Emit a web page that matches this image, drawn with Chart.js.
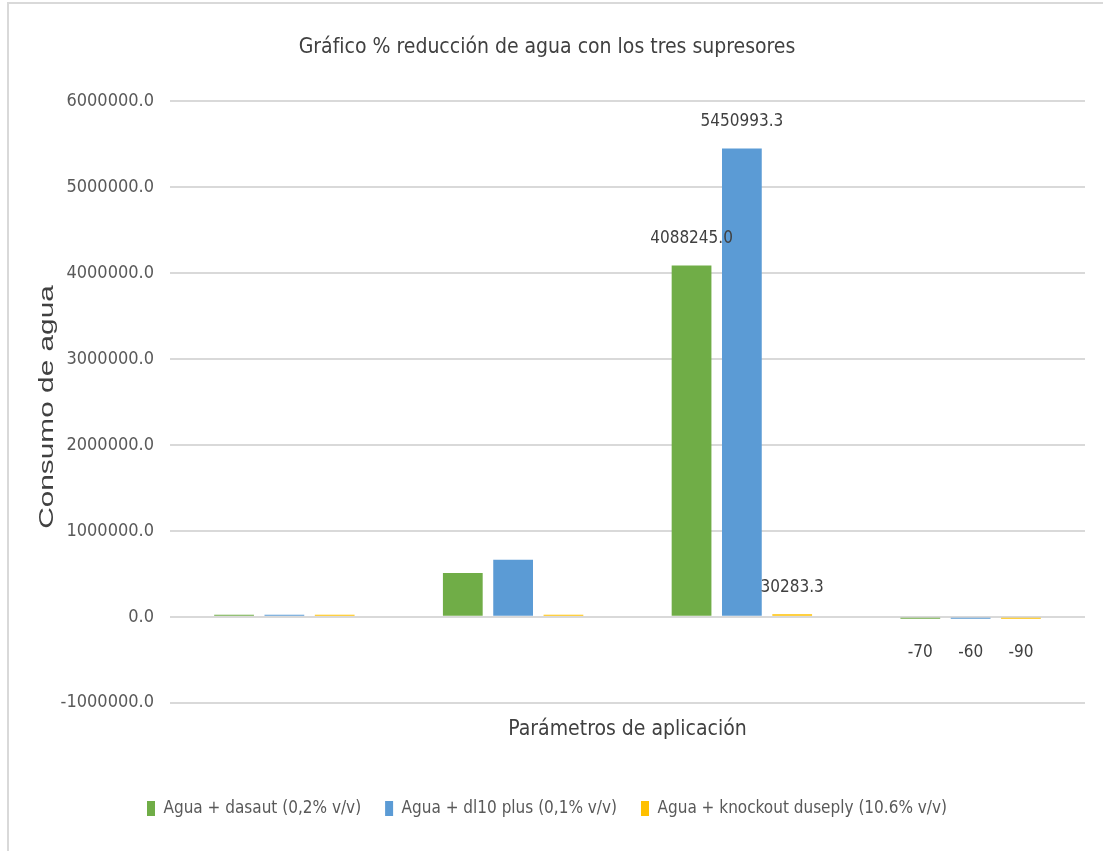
<!DOCTYPE html>
<html lang="es">
<head>
  <meta charset="UTF-8" />
  <title>Gráfico % reducción de agua</title>
  <script src="https://cdn.jsdelivr.net/npm/chart.js"></script>
  <style>
    html, body { margin: 0; padding: 0; background: #fff; }
    #frame {
      position: absolute; left: 7px; top: 2px; width: 1096px; height: 849px;
      border-left: 2px solid #d9d9d9; border-top: 2px solid #d9d9d9;
    }
    canvas { position: absolute; left: 0; top: 0; }
  </style>
</head>
<body>
  <div id="frame"></div>
  <canvas id="waterChart" width="1103" height="851"></canvas>

<script>
const categories = ['', '', '', ''];
const dasaut   = [18000, 510000, 4088245.0, -70];
const dl10     = [18000, 665000, 5450993.3, -60];
const knockout = [15000, 15000, 30283.3, -90];

// etiquetas que se ven en el gráfico (null = sin etiqueta)
const dasautLabels   = [null, null, '4088245.0', '-70'];
const dl10Labels     = [null, null, '5450993.3', '-60'];
const knockoutLabels = [null, null, '30283.3', '-90'];

const seriesNames = [
  'Agua + dasaut (0,2% v/v)',
  'Agua + dl10 plus (0,1% v/v)',
  'Agua + knockout duseply (10.6% v/v)'
];
const yTicks = { min: -1000000, max: 6000000, step: 1000000 };
const yTitle = 'Consumo de agua';

const narrow = "'Liberation Sans Narrow', 'DejaVu Sans Condensed', sans-serif";

const valueLabels = {
  id: 'valueLabels',
  afterDatasetsDraw(chart) {
    const ctx = chart.ctx;
    const lists = [dasautLabels, dl10Labels, knockoutLabels];
    ctx.save();
    ctx.font = '17px ' + narrow;
    ctx.fillStyle = '#404040';
    ctx.textAlign = 'center';
    ctx.textBaseline = 'middle';
    chart.data.datasets.forEach((ds, i) => {
      const meta = chart.getDatasetMeta(i);
      meta.data.forEach((bar, j) => {
        const txt = lists[i][j];
        if (!txt) return;
        const y = ds.data[j] >= 0 ? bar.y - 27 : bar.base + 35;
        ctx.fillText(txt, bar.x, y);
      });
    });
    ctx.restore();
  }
};

// titulo del eje y, estirado como en el original
const yAxisTitle = {
  id: 'yAxisTitle',
  afterDraw(chart) {
    const ctx = chart.ctx;
    const area = chart.chartArea;
    ctx.save();
    ctx.translate(47, (area.top + area.bottom) / 2 + 5);
    ctx.rotate(-Math.PI / 2);
    ctx.scale(1.42, 1);
    ctx.font = "21px 'Liberation Sans', Arial, sans-serif";
    ctx.fillStyle = '#404040';
    ctx.textAlign = 'center';
    ctx.textBaseline = 'middle';
    ctx.fillText(yTitle, 0, 0);
    ctx.restore();
  }
};

const ctx = document.getElementById('waterChart').getContext('2d');

new Chart(ctx, {
  type: 'bar',
  data: {
    labels: categories,
    datasets: [
      { label: seriesNames[0], data: dasaut, backgroundColor: '#70ad47' },
      { label: seriesNames[1], data: dl10, backgroundColor: '#5b9bd5' },
      { label: seriesNames[2], data: knockout, backgroundColor: '#ffc000' }
    ]
  },
  options: {
    responsive: false,
    animation: false,
    categoryPercentage: 0.66,
    barPercentage: 0.79,
    minBarLength: 2,
    layout: { padding: { left: 9, right: 18, top: 0, bottom: 24 } },
    scales: {
      x: {
        grid: { display: false },
        border: { display: false },
        ticks: { display: false },
        title: {
          display: true,
          text: 'Parámetros de aplicación',
          color: '#404040',
          font: { family: narrow, size: 21 },
          padding: { top: 6, bottom: 34 }
        }
      },
      y: {
        min: yTicks.min,
        max: yTicks.max,
        ticks: {
          stepSize: yTicks.step,
          color: '#595959',
          font: { family: narrow, size: 18 },
          padding: 16,
          callback: v => v.toFixed(1)
        },
        grid: { color: '#d9d9d9', lineWidth: 2, drawTicks: false },
        border: { display: false },
        afterFit: scale => { scale.width = 161; }
      }
    },
    plugins: {
      title: {
        display: true,
        text: 'Gráfico % reducción de agua con los tres supresores',
        color: '#404040',
        font: { family: narrow, size: 21, weight: 'normal' },
        padding: { top: 35, bottom: 41 }
      },
      legend: {
        position: 'bottom',
        labels: {
          color: '#595959',
          font: { family: narrow, size: 17 },
          boxWidth: 8,
          boxHeight: 15,
          padding: 24
        }
      },
      tooltip: { enabled: false }
    }
  },
  plugins: [valueLabels, yAxisTitle]
});
</script>
</body>
</html>
